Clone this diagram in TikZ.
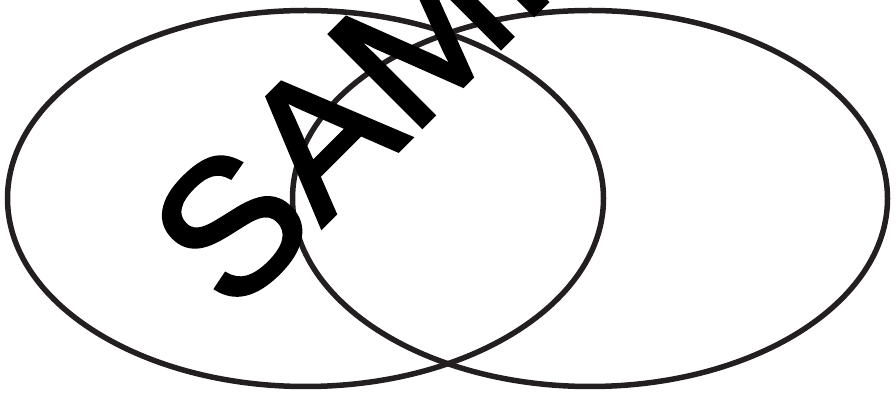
\documentclass[tikz,border=0pt]{standalone}
\usepackage{fontspec}
\setmainfont{Liberation Sans}
\newfontfamily\markfont[FakeBold=2]{Liberation Sans}
\definecolor{ring}{HTML}{231F20}
\begin{document}
\begin{tikzpicture}[x=1pt,y=1pt,
  ringline/.style={draw=ring,line width=5.5pt},
  mark text/.style={inner sep=0pt,rotate=45,anchor=base west,text=black,font=\markfont\fontsize{190}{200}\selectfont}]
\useasboundingbox (0,0) rectangle (896,393);
\clip (0,0) rectangle (896,393);
\draw[ringline] (305.5,194.5) ellipse [x radius=298, y radius=188];
\draw[ringline] (590,194.5) ellipse [x radius=297.5, y radius=188];
\node[mark text] (wm) at (232,76) {SAMPLE};
\end{tikzpicture}
\end{document}
